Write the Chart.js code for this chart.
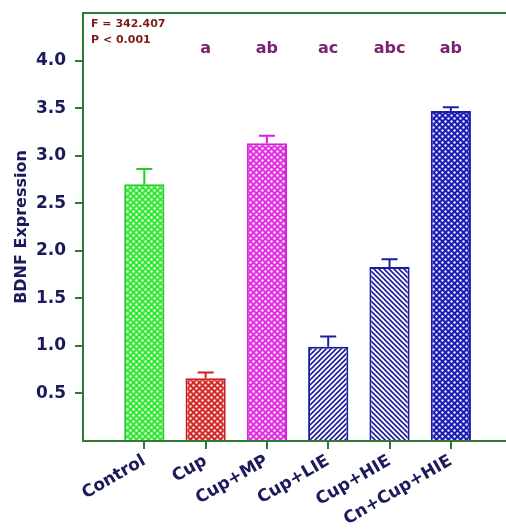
<!DOCTYPE html>
<html>
<head>
<meta charset="utf-8">
<script src="https://cdn.jsdelivr.net/npm/chart.js@4"></script>
<style>
  body { margin: 0; background: #fff; }
  #wrap { width: 506px; height: 531px; }
</style>
</head>
<body>
<div id="wrap"><canvas id="bdnfChart" width="506" height="531"></canvas></div>
<script>
const groups = ["Control", "Cup", "Cup+MP", "Cup+LIE", "Cup+HIE", "Cn+Cup+HIE"];
const bdnf = [2.70, 0.66, 3.13, 0.99, 1.83, 3.47];
const sem = [0.16, 0.06, 0.08, 0.11, 0.08, 0.04];
const sigLetters = ["", "a", "ab", "ac", "abc", "ab"];
const statLines = ["F = 342.407", "P < 0.001"];

const axisGreen = '#2f7a34';
const navy = '#1b1b5c';
const fontFam = '"DejaVu Sans", Verdana, sans-serif';

function dots(bg) {
  const c = document.createElement('canvas');
  c.width = c.height = 6;
  const g = c.getContext('2d');
  g.fillStyle = bg;
  g.fillRect(0, 0, 6, 6);
  g.fillStyle = 'rgba(255,255,255,0.9)';
  [[1.5, 1.5], [4.5, 4.5]].forEach(p => {
    g.beginPath(); g.arc(p[0], p[1], 1.2, 0, Math.PI * 2); g.fill();
  });
  return g.createPattern(c, 'repeat');
}

function hatch(fg, back) {
  const s = 5;
  const c = document.createElement('canvas');
  c.width = c.height = s;
  const g = c.getContext('2d');
  g.fillStyle = '#fff';
  g.fillRect(0, 0, s, s);
  g.strokeStyle = fg;
  g.lineWidth = 1.6;
  const segs = back
    ? [[0, 0, s, s], [-1, s - 1, 1, s + 1], [s - 1, -1, s + 1, 1]]
    : [[0, s, s, 0], [-1, 1, 1, -1], [s - 1, s + 1, s + 1, s - 1]];
  segs.forEach(l => { g.beginPath(); g.moveTo(l[0], l[1]); g.lineTo(l[2], l[3]); g.stroke(); });
  return g.createPattern(c, 'repeat');
}

const edgeColors = ['#22d022', '#c62020', '#d820d8', '#1c1ca0', '#1c1ca0', '#1c1cb0'];
const fills = [dots('#36e836'), dots('#d42a2a'), dots('#e030e0'),
               hatch('#1c1ca0', false), hatch('#1c1ca0', true), dots('#1c1cb4')];

// upper error bars
const errorBars = {
  id: 'errorBars',
  afterDatasetsDraw(chart) {
    const { ctx, scales: { x, y } } = chart;
    ctx.save();
    ctx.lineWidth = 2;
    bdnf.forEach((v, i) => {
      const px = x.getPixelForValue(i);
      const top = y.getPixelForValue(v + sem[i]);
      const base = y.getPixelForValue(v);
      ctx.strokeStyle = edgeColors[i];
      ctx.beginPath();
      ctx.moveTo(px, base); ctx.lineTo(px, top);
      ctx.moveTo(px - 8, top); ctx.lineTo(px + 8, top);
      ctx.stroke();
    });
    ctx.restore();
  }
};

// letters, stats and top frame
const annotations = {
  id: 'annotations',
  afterDraw(chart) {
    const { ctx, chartArea, scales: { x, y } } = chart;
    ctx.save();
    ctx.strokeStyle = axisGreen;
    ctx.lineWidth = 2;
    ctx.beginPath();
    ctx.moveTo(chartArea.left - 1, chartArea.top);
    ctx.lineTo(chartArea.right, chartArea.top);
    ctx.stroke();

    ctx.fillStyle = '#7a2370';
    ctx.font = 'bold 16px ' + fontFam;
    ctx.textAlign = 'center';
    ctx.textBaseline = 'middle';
    sigLetters.forEach((t, i) => {
      if (t) ctx.fillText(t, x.getPixelForValue(i), y.getPixelForValue(4.12));
    });

    ctx.fillStyle = '#7a1c1c';
    ctx.font = 'bold 11px ' + fontFam;
    ctx.textAlign = 'left';
    statLines.forEach((t, i) => ctx.fillText(t, chartArea.left + 8, chartArea.top + 11 + i * 16));
    ctx.restore();
  }
};

new Chart(document.getElementById('bdnfChart'), {
  type: 'bar',
  data: {
    datasets: [{
      data: bdnf.map((v, i) => ({ x: i, y: v })),
      backgroundColor: fills,
      borderColor: edgeColors,
      borderWidth: 2,
      borderSkipped: 'bottom',
      barPercentage: 0.82,
      categoryPercentage: 0.8
    }]
  },
  options: {
    responsive: false,
    animation: false,
    layout: { padding: { top: 13, right: 0, left: 0, bottom: 0 } },
    plugins: { legend: { display: false }, tooltip: { enabled: false } },
    scales: {
      x: {
        type: 'linear',
        offset: false,
        min: -1,
        max: 5.9,
        afterBuildTicks(scale) {
          scale.ticks = groups.map((g, i) => ({ value: i }));
        },
        afterFit(scale) {
          scale.height = 90;
          scale.paddingLeft = 0;
          scale.paddingRight = 0;
        },
        border: { color: axisGreen, width: 2 },
        grid: { offset: false, drawOnChartArea: false, color: axisGreen, lineWidth: 2, tickLength: 8 },
        ticks: {
          autoSkip: false,
          maxRotation: 30,
          minRotation: 30,
          padding: 2,
          color: navy,
          font: { family: fontFam, size: 17, weight: 'bold' },
          callback: v => groups[v]
        }
      },
      y: {
        min: 0,
        max: 4.5,
        afterFit(scale) {
          scale.width = 83;
          scale.paddingTop = 0;
          scale.paddingBottom = 0;
        },
        border: { color: axisGreen, width: 2 },
        grid: {
          drawOnChartArea: false,
          lineWidth: 2,
          tickLength: 8,
          color: c => (c.tick.value > 0 && c.tick.value < 4.5) ? axisGreen : 'rgba(0,0,0,0)'
        },
        ticks: {
          stepSize: 0.5,
          padding: 9,
          color: navy,
          font: { family: fontFam, size: 17, weight: 'bold' },
          callback: v => (v > 0 && v < 4.5) ? v.toFixed(1) : ''
        },
        title: {
          display: true,
          text: 'BDNF Expression',
          color: navy,
          padding: { top: 12, bottom: 4 },
          font: { family: fontFam, size: 16, weight: 'bold' }
        }
      }
    }
  },
  plugins: [errorBars, annotations]
});
</script>
</body>
</html>
